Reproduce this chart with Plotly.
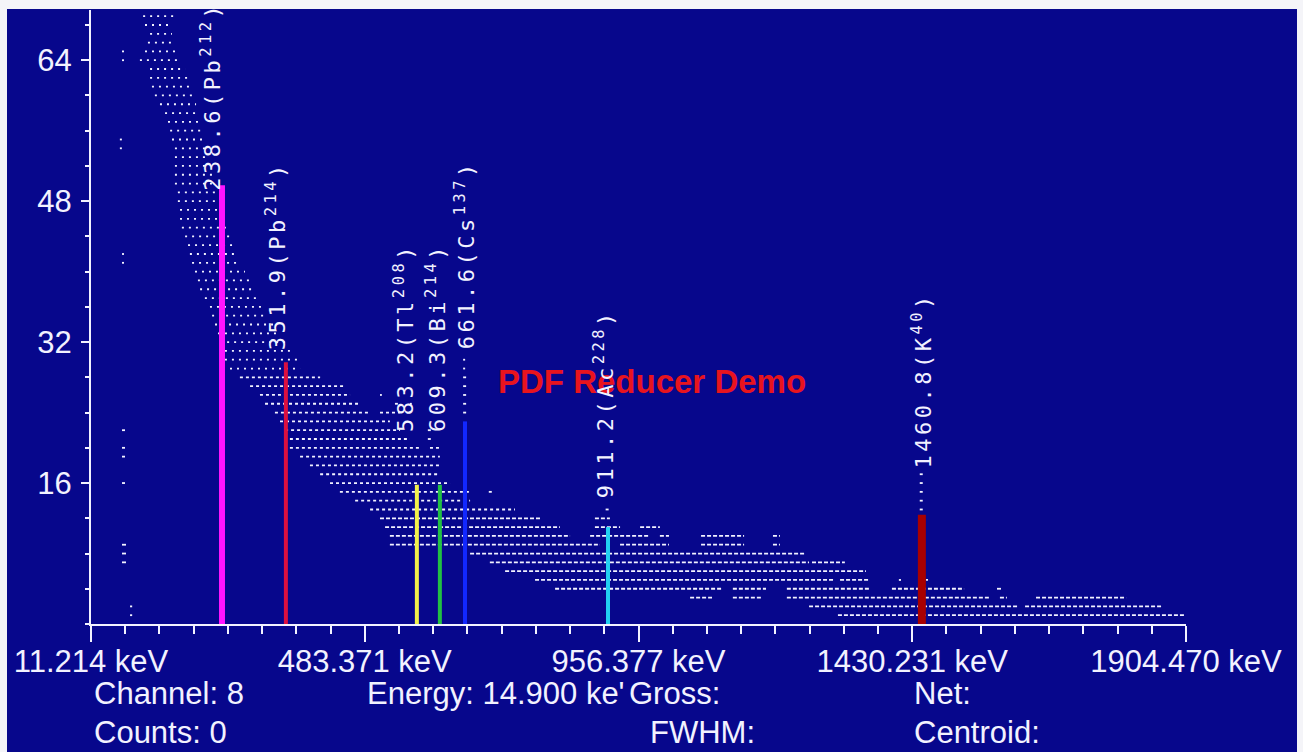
import plotly.graph_objects as go

W, H = 1303, 752
BLUE = '#07078c'
WHITE = '#f2f2ff'

# ---------------- data ----------------
tick_channels = [0, 1024, 2048, 3072, 4096]
tick_energies = [11.214, 483.371, 956.377, 1430.231, 1904.470]
tick_labels = [f"{e:.3f} keV" for e in tick_energies]
y_ticks = [16, 32, 48, 64]
y_max = 69.7

peak_labels = ["238.6(Pb<sup>212</sup>)", "351.9(Pb<sup>214</sup>)", "583.2(Tl<sup>208</sup>)",
               "609.3(Bi<sup>214</sup>)", "661.6(Cs<sup>137</sup>)", "911.2(Ac<sup>228</sup>)",
               "1460.8(K<sup>40</sup>)"]
peak_channels = [490, 729, 1219, 1305, 1399, 1934, 3108]
peak_heights = [49.8, 29.7, 15.8, 15.8, 23.0, 11.0, 12.4]
label_counts = [49.0, 30.9, 21.6, 21.6, 30.9, 14.0, 17.4]

# spectrum counts: for each integer count level, channel ranges holding points
rows_upper = {
    69: [(195, 314)], 68: [(202, 303)], 67: [(221, 303)], 66: [(213, 314)],
    65: [(116, 131), (202, 325)], 64: [(116, 135), (183, 340)], 63: [(221, 352)],
    62: [(221, 370)], 61: [(228, 382)], 60: [(239, 378)], 59: [(258, 393)],
    58: [(277, 400)], 57: [(288, 408)], 56: [(296, 415)],
    55: [(108, 127), (303, 426)], 54: [(108, 127), (314, 438)], 53: [(314, 438)],
    52: [(314, 445)], 51: [(314, 453)], 50: [(314, 464)], 49: [(325, 475)],
    48: [(325, 490)], 47: [(333, 501)], 46: [(333, 512)], 45: [(340, 520)],
    44: [(352, 527)], 43: [(363, 539)], 42: [(116, 135), (370, 550)],
    41: [(116, 135), (378, 557)], 40: [(389, 576)], 39: [(400, 595)],
    38: [(408, 613)], 37: [(426, 632)], 36: [(445, 640)], 35: [(453, 662)],
    34: [(464, 688)], 33: [(475, 707)], 32: [(483, 726)], 31: [(501, 744)],
    30: [(501, 782), (1392, 1405)], 29: [(520, 782), (1392, 1405)],
}
rows_middle = {
    28: [(557, 857), (1392, 1405)], 27: [(595, 950), (1392, 1405)],
    26: [(632, 969), (1081, 1088), (1392, 1405)],
    25: [(651, 1006), (1137, 1148), (1193, 1200), (1392, 1405)],
    24: [(688, 1044), (1081, 1156), (1392, 1405)], 23: [(707, 1118)],
    22: [(116, 135), (726, 1156), (1260, 1275)], 21: [(744, 1193), (1260, 1275)],
    20: [(116, 135), (744, 1231), (1268, 1305)], 19: [(116, 135), (782, 1305)],
    18: [(819, 1305)], 17: [(857, 1305), (3100, 3115)],
    16: [(116, 135), (894, 1343), (3100, 3115)],
    15: [(931, 1418), (1488, 1500), (3100, 3115)], 14: [(988, 1418), (3100, 3115)],
    13: [(1044, 1586), (1925, 1940), (3100, 3115)],
}
rows_lower = {
    12: [(1081, 1680), (1885, 1941), (3100, 3115)],
    11: [(1100, 1754), (1885, 1979), (2054, 2128)],
    10: [(1118, 1792), (1867, 2091), (2128, 2162), (2282, 2443), (2551, 2577)],
    9: [(116, 135), (1118, 1904), (1979, 2162), (2282, 2443), (2551, 2577)],
    8: [(116, 135), (1418, 2671)],
    7: [(116, 135), (1492, 2686), (2697, 2820)],
    6: [(1549, 2899)],
    5: [(1661, 2779), (2802, 2914), (3022, 3030), (3101, 3131)],
    4: [(1736, 2364), (2401, 2525), (2603, 2914), (2996, 3266), (3389, 3411)],
    3: [(2241, 2323), (2401, 2510), (2603, 3359), (3400, 3426), (3535, 3872)],
    2: [(146, 154), (2686, 3468), (3494, 4006)],
    1: [(146, 154), (2794, 4092)],
}

status_texts = ["Channel: 8", "Energy: 14.900 ke'", "Gross:", "Net:", "Counts: 0", "FWHM:", "Centroid:"]

# ---------------- style ----------------
peak_colors = ['#ff14ff', '#dc1040', '#f2f04a', '#22c044', '#1228ff', '#22d0f2', '#a80000']
peak_widths = [6, 4, 4, 4, 4, 4, 8]
label_xshift = [5, 6, 3, 12, 16, 12, 16]

L, R, T, B = 91, 117, 10, 128
PW, PH = W - L - R, H - T - B


def px2paper_x(px):
    return (px - L) / PW


def py2paper_y(py):
    return (H - B - py) / PH


fig = go.Figure()


def add_rows(rows, dash):
    xs, ys = [], []
    for c, ivs in rows.items():
        for a, b in ivs:
            xs += [a, b, None]
            ys += [c, c, None]
    fig.add_trace(go.Scatter(x=xs, y=ys, mode='lines', hoverinfo='skip',
                             line=dict(color=WHITE, width=1.8, dash=dash)))


add_rows(rows_upper, '2px,5px')
add_rows(rows_middle, '3px,3px')
add_rows(rows_lower, '4px,2px')

for ch, h, col, w in zip(peak_channels, peak_heights, peak_colors, peak_widths):
    fig.add_trace(go.Scatter(x=[ch, ch], y=[0, h], mode='lines', hoverinfo='skip',
                             line=dict(color=col, width=w)))

annotations = []
# watermark
annotations.append(dict(xref='paper', yref='paper', x=px2paper_x(652), y=py2paper_y(381),
                        text='<b>PDF Reducer Demo</b>', showarrow=False,
                        font=dict(family='Liberation Sans, Arial', size=33, color='#e8141e'),
                        xanchor='center', yanchor='middle'))
for txt, ch, yc, xs in zip(peak_labels, peak_channels, label_counts, label_xshift):
    annotations.append(dict(x=ch, y=yc, xref='x', yref='y', showarrow=False,
                            text=f'<span style="letter-spacing:3.5px">{txt}</span>',
                            textangle=-90, xanchor='right', yanchor='bottom', xshift=xs,
                            font=dict(family='DejaVu Sans Mono', size=22, color=WHITE)))

status_pos = [(92, 693), (365, 693), (627, 693), (912, 693), (92, 732), (648, 732), (912, 732)]
for txt, (px, py) in zip(status_texts, status_pos):
    annotations.append(dict(xref='paper', yref='paper', x=px2paper_x(px), y=py2paper_y(py),
                            text=txt, showarrow=False, xanchor='left', yanchor='middle',
                            font=dict(family='Liberation Sans, Arial', size=31, color=WHITE)))

shapes = []
for (x0, y0, x1, y1) in [(0, 0, 7, H), (0, 0, W, 9), (1297, 0, W, H)]:
    shapes.append(dict(type='rect', xref='paper', yref='paper', layer='above',
                       x0=px2paper_x(x0), x1=px2paper_x(x1), y0=py2paper_y(y1), y1=py2paper_y(y0),
                       line=dict(width=0), fillcolor='#f4f4f8'))

fig.update_layout(
    width=W, height=H, margin=dict(l=L, r=R, t=T, b=B),
    paper_bgcolor=BLUE, plot_bgcolor=BLUE, showlegend=False,
    annotations=annotations, shapes=shapes,
    xaxis=dict(range=[0, 4096], tickvals=tick_channels, ticktext=tick_labels,
               showgrid=False, zeroline=False, showline=True, linecolor=WHITE, linewidth=2,
               ticks='outside', ticklen=16, tickwidth=2, tickcolor=WHITE, ticklabelstandoff=-7,
               minor=dict(dtick=128, tick0=0, ticks='outside', ticklen=8, tickwidth=2, tickcolor=WHITE),
               tickfont=dict(family='Liberation Sans, Arial', size=31, color=WHITE)),
    yaxis=dict(range=[0, y_max], tickvals=y_ticks,
               showgrid=False, zeroline=False, showline=True, linecolor=WHITE, linewidth=2,
               ticks='outside', ticklen=8, tickwidth=2, tickcolor=WHITE, ticklabelstandoff=3,
               minor=dict(dtick=4, tick0=0, ticks='outside', ticklen=4, tickwidth=2, tickcolor=WHITE),
               tickfont=dict(family='Liberation Sans, Arial', size=31, color=WHITE)),
)

fig.write_html("out.html")
